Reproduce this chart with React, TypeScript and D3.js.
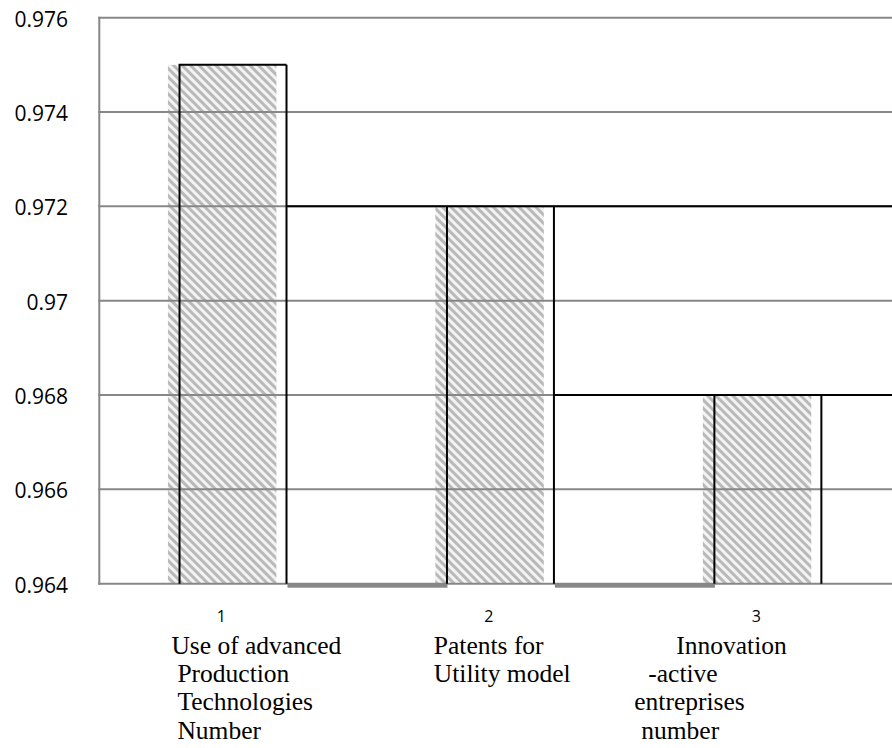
import React from "react";
import * as d3 from "d3";

const categories = ["1", "2", "3"];
const values = [0.975, 0.972, 0.968];
const yTicks = [0.964, 0.966, 0.968, 0.97, 0.972, 0.974, 0.976];
const yTickLabels = ["0.964", "0.966", "0.968", "0.97", "0.972", "0.974", "0.976"];
const categoryText = [
  ["Use of advanced", " Production", " Technologies", " Number"],
  ["Patents for", "Utility model"],
  ["Innovation", "-active", "entreprises", "number"],
];

// layout (pixel offsets of label lines relative to hatched bar centre)
const textOffsets = [
  [-50, -44, -44, -44],
  [-55, -55],
  [-80, -108, -122, -115],
];

const W = 892;
const H = 748;
const left = 99.3;
const top = 17.7;
const bottom = 583.7;
const GRID = "#878787";

export default function App() {
  const x = d3
    .scaleBand<string>()
    .domain(categories)
    .range([left, 901.6])
    .paddingInner(0.6)
    .paddingOuter(0.3);
  const y = d3.scaleLinear().domain([0.964, 0.976]).range([bottom, top]);
  const bw = x.bandwidth();
  const hatchShift = -11.6;

  const blackPaths: string[] = [];
  categories.forEach((c, i) => {
    const x0 = x(c)!;
    const x1 = x0 + bw;
    const yv = y(values[i]);
    const p = d3.path();
    p.moveTo(x0, bottom);
    p.lineTo(x0, yv);
    if (i === 0) {
      p.lineTo(x1, yv);
    } else {
      p.moveTo(x(categories[i - 1])! + bw, yv);
      p.lineTo(W + 5, yv);
      p.moveTo(x1, yv);
    }
    p.moveTo(x1, yv);
    p.lineTo(x1, bottom);
    blackPaths.push(p.toString());
  });

  return (
    <svg
      width={W}
      height={H}
      style={{ position: "absolute", left: 0, top: 0, background: "#fff" }}
    >
      <defs>
        <pattern
          id="hatch"
          patternUnits="userSpaceOnUse"
          width={6}
          height={6}
          patternTransform="rotate(45)"
        >
          <rect width={6} height={6} fill="#f3f3f3" />
          <rect y={0} width={6} height={3} fill="#b9b9b9" />
        </pattern>
      </defs>

      {/* hatched bars */}
      {categories.map((c, i) => (
        <rect
          key={"h" + c}
          x={x(c)! + hatchShift}
          y={y(values[i])}
          width={bw + 1.5}
          height={bottom - y(values[i])}
          fill="url(#hatch)"
        />
      ))}

      {/* gridlines */}
      {yTicks.map((t) => (
        <line
          key={"g" + t}
          x1={left - 1}
          x2={W}
          y1={y(t)}
          y2={y(t)}
          stroke={GRID}
          strokeWidth={2}
        />
      ))}
      <line x1={left} x2={left} y1={top - 1} y2={bottom + 1} stroke={GRID} strokeWidth={2} />

      {/* connectors at base */}
      {categories.slice(1).map((c, i) => (
        <rect
          key={"c" + c}
          x={x(categories[i])! + bw + 1}
          y={bottom - 0.5}
          width={x(c)! - (x(categories[i])! + bw) - 0.5}
          height={4.5}
          fill={GRID}
        />
      ))}

      {/* black outlines */}
      {blackPaths.map((d, i) => (
        <path key={"b" + i} d={d} fill="none" stroke="#000" strokeWidth={2} />
      ))}

      {/* y tick labels */}
      {yTicks.map((t, i) => (
        <text
          key={"yl" + t}
          x={68}
          y={y(t) + 9}
          textAnchor="end"
          fontFamily="'Open Sans', sans-serif"
          fontSize={21}
          fill="#000"
        >
          {yTickLabels[i]}
        </text>
      ))}

      {/* category labels */}
      {categories.map((c, i) => {
        const cx = x(c)! + hatchShift + bw / 2;
        return (
          <g key={"cl" + c}>
            <text
              x={cx}
              y={621.5}
              textAnchor="middle"
              fontFamily="'Open Sans', sans-serif"
              fontSize={16}
              fill="#000"
            >
              {c}
            </text>
            {categoryText[i].map((line, j) => (
              <text
                key={j}
                x={cx + textOffsets[i][j]}
                y={653.7 + j * 28.3}
                fontFamily="'Liberation Serif', 'Times New Roman', serif"
                fontSize={25.5}
                fill="#000"
                style={{ whiteSpace: "pre" }}
              >
                {line.trim()}
              </text>
            ))}
          </g>
        );
      })}
    </svg>
  );
}
